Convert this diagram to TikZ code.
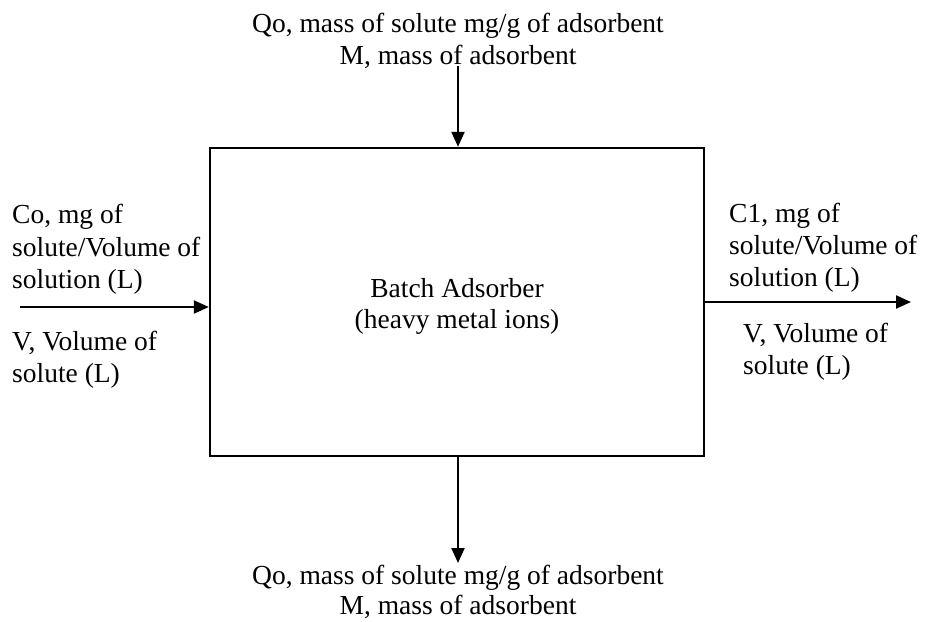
\documentclass[tikz,border=0pt]{standalone}
\usepackage{fontspec}
\setmainfont{Liberation Serif}
\usetikzlibrary{arrows.meta}
\begin{document}
\begin{tikzpicture}[x=1pt,y=-1pt,
  lbl/.style={inner sep=0pt, font=\fontsize{27.5}{33}\selectfont},
  lw/.style={lbl, anchor=base west},
  lc/.style={lbl, anchor=base},
  arr/.style={line width=2.2pt, -{Triangle[length=15pt,width=13pt]}},
  boxst/.style={draw, line width=2.4pt, minimum width=494pt, minimum height=308pt, inner sep=0pt}]
\useasboundingbox (0,0) rectangle (925,621);
\fill[white] (0,0) rectangle (925,621);
\node[boxst] (box) at (457,302) {};
% centre text
\node[lc] (c1) at (457,297) {Batch Adsorber};
\node[lc] (c2) at (457,328) {(heavy metal ions)};
% top text
\node[lc] (t1) at (458,32) {Qo, mass of solute mg/g of adsorbent};
\node[lc] (t2) at (458,64) {M, mass of adsorbent};
% bottom text
\node[lc] (b1) at (458,584) {Qo, mass of solute mg/g of adsorbent};
\node[lc] (b2) at (458,614) {M, mass of adsorbent};
% left text
\node[lw] (l1) at (12,223) {Co, mg of};
\node[lw] (l2) at (12,256) {solute/Volume of};
\node[lw] (l3) at (12,288) {solution (L)};
\node[lw] (l4) at (12,350) {V, Volume of};
\node[lw] (l5) at (12,382) {solute (L)};
% right text
\node[lw] (r1) at (729,222) {C1, mg of};
\node[lw] (r2) at (729,254) {solute/Volume of};
\node[lw] (r3) at (729,286) {solution (L)};
\node[lw] (r4) at (743,342) {V, Volume of};
\node[lw] (r5) at (743,374) {solute (L)};
% connectors
\coordinate (topstart) at (458,66);
\coordinate (botend) at (458,563);
\coordinate (leftstart) at (20,307);
\coordinate (rightend) at (911,302);
\draw[arr] (topstart) -- (topstart |- box.north);
\draw[arr] (botend |- box.south) -- (botend);
\draw[arr] (leftstart) -- (leftstart -| box.west);
\draw[arr] (rightend -| box.east) -- (rightend);
\end{tikzpicture}
\end{document}
